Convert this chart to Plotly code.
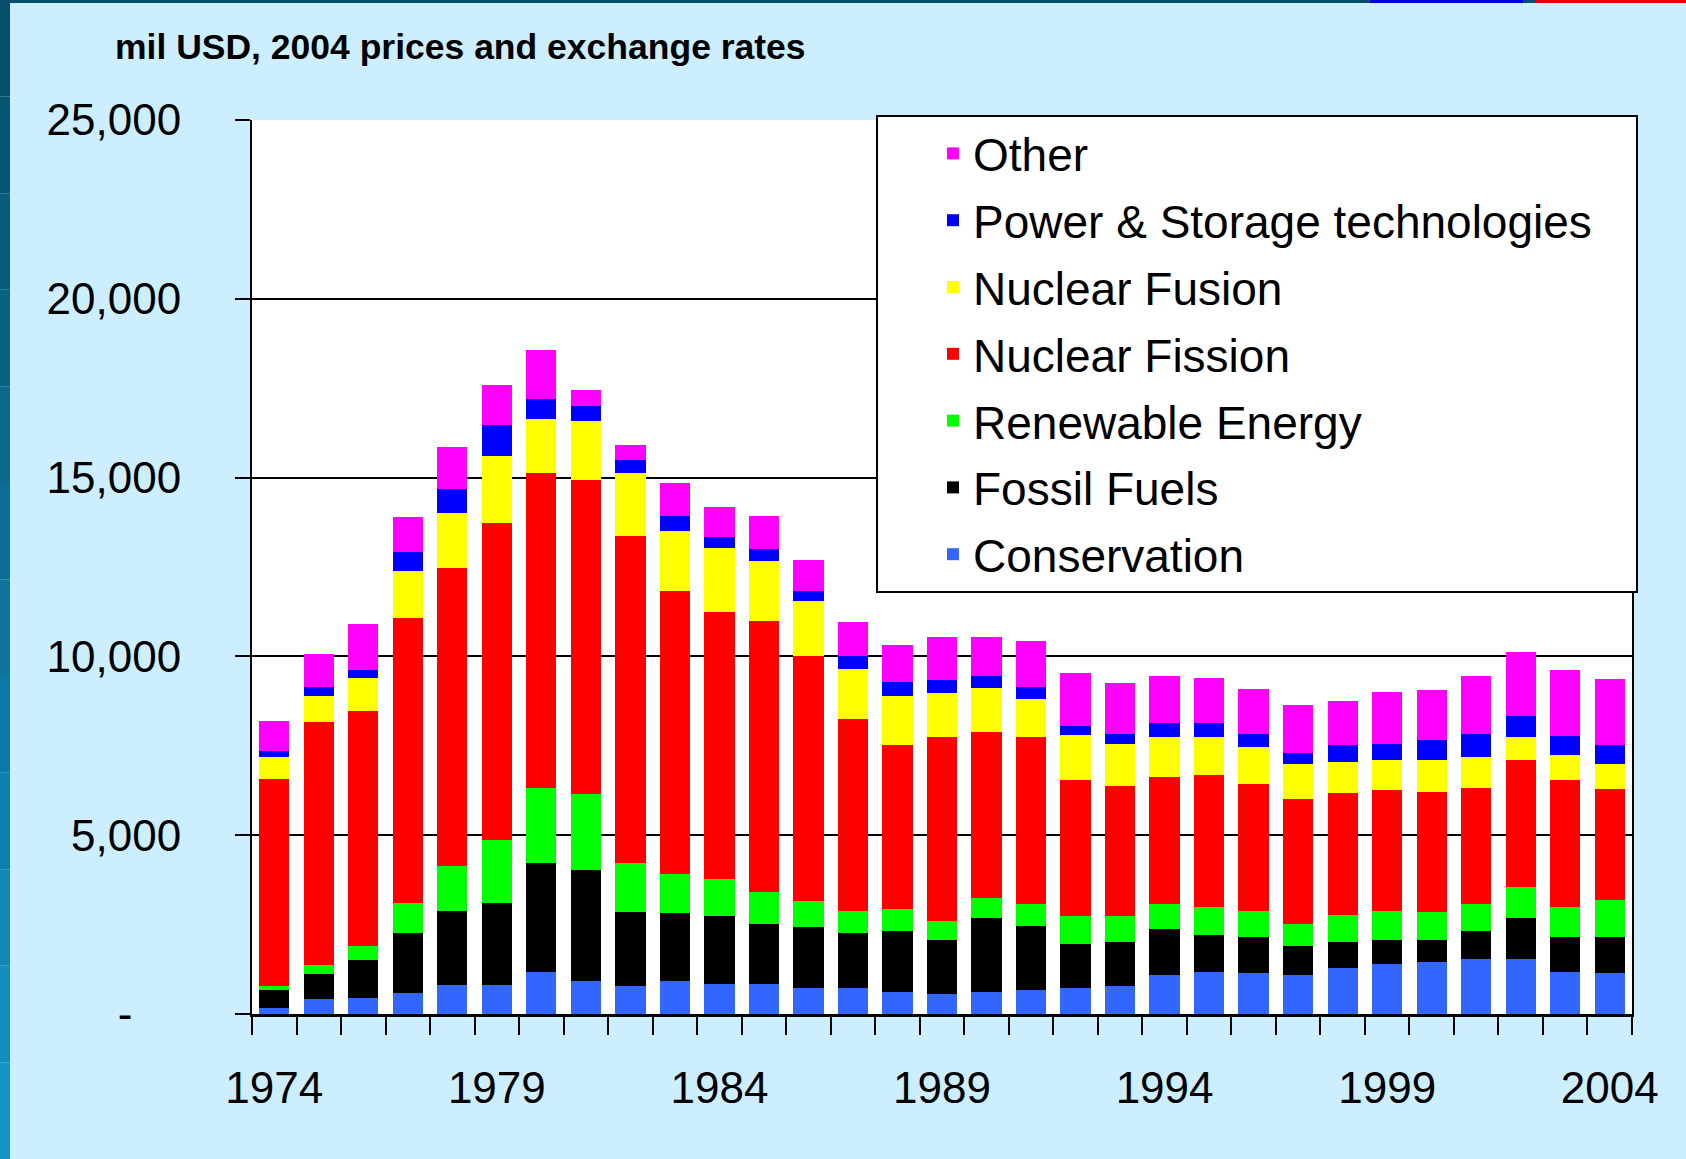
import plotly.graph_objects as go

years = list(range(1974, 2005))

conservation = [0.16, 0.41, 0.46, 0.60, 0.82, 0.82, 1.18, 0.93, 0.78, 0.92, 0.83, 0.83, 0.73, 0.73, 0.62, 0.57,
                0.62, 0.67, 0.73, 0.77, 1.08, 1.18, 1.14, 1.08, 1.28, 1.39, 1.45, 1.54, 1.54, 1.18, 1.14]
fossil = [0.52, 0.72, 1.05, 1.67, 2.07, 2.28, 3.05, 3.10, 2.06, 1.91, 1.90, 1.69, 1.69, 1.53, 1.71, 1.50,
          2.06, 1.80, 1.23, 1.24, 1.29, 1.03, 1.02, 0.82, 0.73, 0.67, 0.61, 0.78, 1.14, 0.98, 1.02]
renewable = [0.10, 0.23, 0.40, 0.83, 1.24, 1.76, 2.09, 2.13, 1.39, 1.09, 1.04, 0.89, 0.73, 0.63, 0.61, 0.52,
             0.57, 0.62, 0.78, 0.73, 0.72, 0.78, 0.72, 0.62, 0.77, 0.82, 0.78, 0.77, 0.88, 0.83, 1.03]
fission = [5.78, 6.81, 6.57, 7.96, 8.33, 8.88, 8.82, 8.78, 9.15, 7.90, 7.48, 7.58, 6.85, 5.37, 4.59, 5.15,
           4.65, 4.65, 3.81, 3.64, 3.54, 3.70, 3.56, 3.50, 3.40, 3.39, 3.38, 3.23, 3.54, 3.54, 3.09]
fusion = [0.63, 0.72, 0.93, 1.34, 1.55, 1.86, 1.51, 1.64, 1.76, 1.70, 1.79, 1.69, 1.56, 1.40, 1.35, 1.23,
          1.23, 1.08, 1.24, 1.18, 1.13, 1.07, 1.02, 0.98, 0.86, 0.82, 0.87, 0.88, 0.66, 0.72, 0.72]
power = [0.16, 0.26, 0.20, 0.51, 0.66, 0.88, 0.56, 0.42, 0.36, 0.41, 0.31, 0.33, 0.26, 0.36, 0.41, 0.38,
         0.31, 0.32, 0.27, 0.26, 0.37, 0.37, 0.36, 0.30, 0.47, 0.47, 0.58, 0.62, 0.57, 0.52, 0.51]
other = [0.85, 0.93, 1.29, 0.98, 1.18, 1.10, 1.35, 0.46, 0.42, 0.93, 0.83, 0.92, 0.88, 0.93, 1.03, 1.18,
         1.09, 1.29, 1.48, 1.44, 1.33, 1.28, 1.28, 1.34, 1.24, 1.44, 1.38, 1.64, 1.79, 1.85, 1.85]

series_names = ["Conservation", "Fossil Fuels", "Renewable Energy", "Nuclear Fission",
                "Nuclear Fusion", "Power & Storage technologies", "Other"]
series_values = [conservation, fossil, renewable, fission, fusion, power, other]
series_colors = ["#3366FF", "#000000", "#00FF00", "#FF0000", "#FFFF00", "#0000FF", "#FF00FF"]

y_tickvals = [0, 5000, 10000, 15000, 20000, 25000]
y_ticktext = ["-\u00a0\u00a0\u00a0\u00a0", "5,000", "10,000", "15,000", "20,000", "25,000"]
x_tickvals = [1974, 1979, 1984, 1989, 1994, 1999, 2004]
x_ticktext = [str(v) for v in x_tickvals]

title_text = "mil USD, 2004 prices and exchange rates"

NBSP = "\u00a0"

fig = go.Figure()
n_series = len(series_names)
for i, (name, vals, col) in enumerate(zip(series_names, series_values, series_colors)):
    label = name + NBSP * 3 if name.startswith("Power") else name
    fig.add_trace(go.Bar(
        x=years, y=[v * 1000 for v in vals], name=label, legendgroup=name,
        legendrank=(n_series - i) * 10,
        marker=dict(color=col, line=dict(width=0)),
    ))

W, H = 1686, 1159
L, R, T, B = 252, 1632, 120, 1014
pw, ph = R - L, B - T

def px_x(px):
    return (px - L) / pw

def px_y(py):
    return (B - py) / ph

tick_font = dict(family="Liberation Sans, Arial", size=44, color="black")

shapes = []
# left border gradient band
n = 12
for i in range(n):
    t = i / (n - 1)
    c0 = (6, 79, 106)
    c1 = (19, 147, 198)
    c = tuple(int(round(c0[k] + (c1[k] - c0[k]) * t)) for k in range(3))
    shapes.append(dict(type="rect", xref="paper", yref="paper",
                       x0=px_x(0), x1=px_x(10),
                       y0=px_y(H * (i + 1) / n), y1=px_y(H * i / n),
                       fillcolor="rgb(%d,%d,%d)" % c, line=dict(width=0), layer="above"))
# top border band
shapes.append(dict(type="rect", xref="paper", yref="paper", x0=px_x(0), x1=px_x(W),
                   y0=px_y(3), y1=px_y(0), fillcolor="#064F6A", line=dict(width=0), layer="above"))
shapes.append(dict(type="rect", xref="paper", yref="paper", x0=px_x(1370), x1=px_x(1523),
                   y0=px_y(3), y1=px_y(0), fillcolor="#0000E0", line=dict(width=0), layer="above"))
shapes.append(dict(type="rect", xref="paper", yref="paper", x0=px_x(1535), x1=px_x(W),
                   y0=px_y(3), y1=px_y(0), fillcolor="#E00000", line=dict(width=0), layer="above"))

fig.update_layout(
    width=W, height=H,
    margin=dict(l=L, r=W - R, t=T, b=H - B, autoexpand=False),
    paper_bgcolor="#CCEEFF",
    plot_bgcolor="white",
    barmode="stack",
    bargap=0.32,
    showlegend=True,
    legend=dict(
        x=px_x(876), y=px_y(115), xanchor="left", yanchor="top",
        bgcolor="white", bordercolor="black", borderwidth=2,
        font=dict(family="Liberation Sans, Arial", size=46, color="black"),
        traceorder="grouped", indentation=55, itemwidth=30, tracegroupgap=4,
    ),
    xaxis=dict(
        range=[1973.5, 2004.5],
        tickmode="array", tickvals=x_tickvals, ticktext=x_ticktext,
        ticks="", showgrid=False, zeroline=False,
        showline=True, linecolor="black", linewidth=3,
        tickfont=tick_font, ticklabelstandoff=33,
        minor=dict(tick0=1973.5, dtick=1, ticks="outside", ticklen=18,
                   tickcolor="black", tickwidth=2, showgrid=False),
    ),
    yaxis=dict(
        range=[0, 25000],
        tickmode="array", tickvals=y_tickvals, ticktext=y_ticktext,
        ticks="outside", ticklen=15, tickcolor="black", tickwidth=2,
        showgrid=True, gridcolor="black", gridwidth=1.5,
        zeroline=False,
        showline=True, linecolor="black", linewidth=2, mirror=True,
        tickfont=tick_font, ticklabelstandoff=45,
    ),
    annotations=[dict(
        text="<b>" + title_text + "</b>", xref="paper", yref="paper",
        x=px_x(113), y=px_y(47), xanchor="left", yanchor="middle", showarrow=False,
        font=dict(family="Liberation Sans, Arial", size=35.5, color="black"),
    )],
    shapes=shapes,
)

fig.write_html(
    "out.html",
    config={"displayModeBar": False},
    post_script="document.body.style.margin='0';document.body.style.background='#CCEEFF';",
)
